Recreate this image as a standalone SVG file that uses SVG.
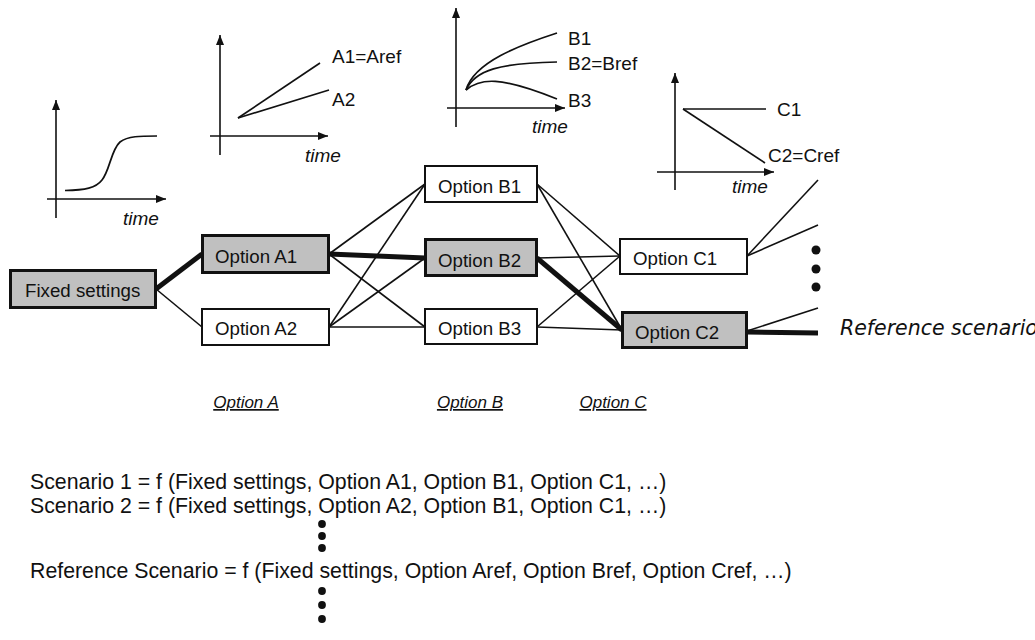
<svg xmlns="http://www.w3.org/2000/svg" width="1035" height="640" viewBox="0 0 1035 640">
  <defs>
    <marker id="axisHead" markerUnits="userSpaceOnUse" markerWidth="11" markerHeight="9" refX="10" refY="4" orient="auto">
      <path d="M0,0 L10,4 L0,8 z" fill="#111"/>
    </marker>
    <style>
      .axis { stroke: #111; stroke-width: 1.6; fill: none; marker-end: url(#axisHead); }
      .curve { stroke: #111; stroke-width: 1.7; fill: none; }
      .lbl { font-family: "Liberation Sans", Arial, sans-serif; font-size: 19px; fill: #111; }
      .time { font-family: "Liberation Sans", Arial, sans-serif; font-size: 19px; font-style: italic; fill: #111; }
      .box { stroke: #111; stroke-width: 2; fill: #ffffff; }
      .box.sel { stroke-width: 3; fill: #c0c0c0; }
      .node-text { font-family: "Liberation Sans", Arial, sans-serif; font-size: 18.7px; fill: #111; }
      .link { stroke: #111; stroke-width: 1.6; fill: none; }
      .link.ref { stroke-width: 5; }
      .col { font-family: "Liberation Sans", Arial, sans-serif; font-size: 17px; font-style: italic; text-decoration: underline; fill: #111; }
      .formula { font-family: "Liberation Sans", Arial, sans-serif; font-size: 21.3px; fill: #111; }
      .refname { font-family: "DejaVu Sans", Verdana, sans-serif; font-size: 20.5px; font-style: italic; fill: #111; }
      .dot { fill: #111; }
    </style>
  </defs>

  <rect width="1035" height="640" fill="#ffffff"/>

  <!-- small time charts -->
  <g id="chart-fixed">
    <line class="axis" x1="56" y1="218" x2="56" y2="100"/>
    <line class="axis" x1="47" y1="199" x2="166" y2="199"/>
    <path class="curve" d="M65,190.5 C85,190 96,188 102,180 C110,170 111,150 120,142 C128,136 140,136 157,136"/>
    <text class="time" x="123" y="225">time</text>
  </g>

  <g id="chart-a">
    <line class="axis" x1="220" y1="155" x2="220" y2="35"/>
    <line class="axis" x1="210" y1="136" x2="328" y2="136"/>
    <line class="curve" x1="238" y1="118" x2="320" y2="63"/>
    <line class="curve" x1="238" y1="118" x2="329" y2="90"/>
    <text class="lbl" x="332" y="63">A1=Aref</text>
    <text class="lbl" x="332" y="106">A2</text>
    <text class="time" x="305" y="162">time</text>
  </g>

  <g id="chart-b">
    <line class="axis" x1="456" y1="127" x2="456" y2="8"/>
    <line class="axis" x1="447" y1="108" x2="565" y2="108"/>
    <path class="curve" d="M466,90 C474,62 520,45 557,33"/>
    <path class="curve" d="M466,90 C475,70 500,63 557,62"/>
    <path class="curve" d="M466,90 C480,78 500,76 557,99"/>
    <text class="lbl" x="568" y="45">B1</text>
    <text class="lbl" x="568" y="70">B2=Bref</text>
    <text class="lbl" x="568" y="107">B3</text>
    <text class="time" x="532" y="133">time</text>
  </g>

  <g id="chart-c">
    <line class="axis" x1="675" y1="190" x2="675" y2="73"/>
    <line class="axis" x1="657" y1="172" x2="774" y2="172"/>
    <line class="curve" x1="683" y1="109" x2="766" y2="109"/>
    <line class="curve" x1="683" y1="109" x2="765" y2="163"/>
    <text class="lbl" x="777" y="116">C1</text>
    <text class="lbl" x="768" y="162">C2=Cref</text>
    <text class="time" x="732" y="193">time</text>
  </g>

  <!-- connectors between option boxes -->
  <g id="connectors">
    <line class="link ref" x1="156" y1="289" x2="202" y2="254"/>
    <line class="link" x1="156" y1="289" x2="202" y2="327"/>

    <line class="link" x1="329" y1="254" x2="425" y2="184"/>
    <line class="link ref" x1="329" y1="254" x2="425" y2="258"/>
    <line class="link" x1="329" y1="254" x2="425" y2="327"/>
    <line class="link" x1="329" y1="327" x2="425" y2="184"/>
    <line class="link" x1="329" y1="327" x2="425" y2="258"/>
    <line class="link" x1="329" y1="327" x2="425" y2="327"/>

    <line class="link" x1="537" y1="184" x2="620" y2="256"/>
    <line class="link" x1="537" y1="184" x2="622" y2="330"/>
    <line class="link" x1="537" y1="258" x2="620" y2="256"/>
    <line class="link ref" x1="537" y1="258" x2="622" y2="330"/>
    <line class="link" x1="537" y1="327" x2="620" y2="256"/>
    <line class="link" x1="537" y1="327" x2="622" y2="330"/>

    <line class="link" x1="747" y1="256" x2="818" y2="180"/>
    <line class="link" x1="747" y1="256" x2="818" y2="225"/>
    <line class="link" x1="747" y1="331" x2="818" y2="308"/>
    <line class="link ref" x1="747" y1="332" x2="818" y2="333"/>
  </g>

  <!-- option boxes -->
  <g id="node-fixed">
    <rect class="box sel" x="10.5" y="270.5" width="145" height="37"/>
    <text class="node-text" x="25" y="297">Fixed settings</text>
  </g>
  <g id="node-a1">
    <rect class="box sel" x="202.5" y="235.5" width="126" height="37"/>
    <text class="node-text" x="215" y="262.5">Option A1</text>
  </g>
  <g id="node-a2">
    <rect class="box" x="202" y="309" width="127" height="36"/>
    <text class="node-text" x="215" y="335">Option A2</text>
  </g>
  <g id="node-b1">
    <rect class="box" x="425" y="166" width="112" height="36"/>
    <text class="node-text" x="438" y="192.5">Option B1</text>
  </g>
  <g id="node-b2">
    <rect class="box sel" x="425.5" y="239.5" width="111" height="36"/>
    <text class="node-text" x="438" y="266.5">Option B2</text>
  </g>
  <g id="node-b3">
    <rect class="box" x="425" y="309" width="112" height="35"/>
    <text class="node-text" x="438" y="335">Option B3</text>
  </g>
  <g id="node-c1">
    <rect class="box" x="620" y="239" width="127" height="35"/>
    <text class="node-text" x="633" y="264.5">Option C1</text>
  </g>
  <g id="node-c2">
    <rect class="box sel" x="622.5" y="312.5" width="124" height="35"/>
    <text class="node-text" x="635" y="338.5">Option C2</text>
  </g>

  <!-- continuation dots and reference label -->
  <g id="more-options">
    <circle class="dot" cx="816" cy="250" r="4.5"/>
    <circle class="dot" cx="816" cy="269" r="4.5"/>
    <circle class="dot" cx="816" cy="287" r="4.5"/>
  </g>
  <text id="reference-label" class="refname" x="840" y="335">Reference scenario</text>

  <!-- column captions -->
  <g id="columns">
    <text class="col" x="246" y="408" text-anchor="middle">Option A</text>
    <text class="col" x="470" y="408" text-anchor="middle">Option B</text>
    <text class="col" x="613" y="408" text-anchor="middle">Option C</text>
  </g>

  <!-- scenario definitions -->
  <g id="formulas">
    <text class="formula" x="30" y="489">Scenario 1 = f (Fixed settings, Option A1, Option B1, Option C1, …)</text>
    <text class="formula" x="30" y="513">Scenario 2 = f (Fixed settings, Option A2, Option B1, Option C1, …)</text>
    <circle class="dot" cx="322" cy="524" r="3.9"/>
    <circle class="dot" cx="322" cy="536" r="3.9"/>
    <circle class="dot" cx="322" cy="548" r="3.9"/>
    <text class="formula" x="30" y="578">Reference Scenario = f (Fixed settings, Option Aref, Option Bref, Option Cref, …)</text>
    <circle class="dot" cx="322" cy="591" r="3.9"/>
    <circle class="dot" cx="322" cy="605" r="3.9"/>
    <circle class="dot" cx="322" cy="619" r="3.9"/>
  </g>
</svg>
